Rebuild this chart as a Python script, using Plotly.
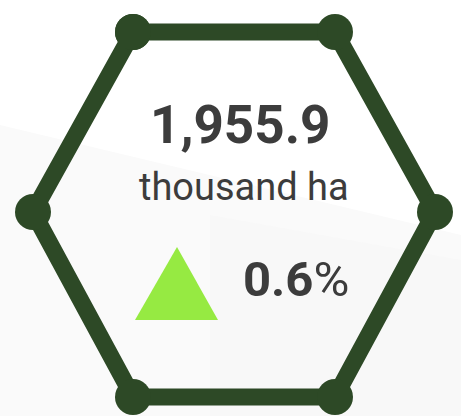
import plotly.graph_objects as go

# Data
value_label = "1,955.9"
unit_label = "thousand ha"
change_label = "0.6"
hex_x = [133, 335, 435, 335, 133, 33, 133]
hex_y = [32, 32, 212, 397, 397, 212, 32]
tri_x = [135, 177, 218, 135]
tri_y = [320, 247, 320, 320]

W, H = 461, 416
line_color = "#2D4926"
text_color = "#3C3C3C"

fig = go.Figure()

# subtle background shading
fig.add_shape(type="path", path="M 0 125 L 461 235 L 461 416 L 0 416 Z",
              fillcolor="#FAFAFA", line_width=0, layer="below")
fig.add_shape(type="path", path="M 210 215 L 461 260 L 461 416 L 210 416 Z",
              fillcolor="#F8F8F8", line_width=0, layer="below")

fig.add_trace(go.Scatter(x=hex_x, y=hex_y, mode="lines+markers",
                         line=dict(color=line_color, width=17),
                         marker=dict(color=line_color, size=36),
                         hoverinfo="skip", showlegend=False))
fig.add_trace(go.Scatter(x=tri_x, y=tri_y, mode="lines", fill="toself",
                         fillcolor="#96EA42", line=dict(width=0, color="#96EA42"),
                         hoverinfo="skip", showlegend=False))

font = "Roboto"
fig.add_annotation(x=240, y=125, text=f"<b>{value_label}</b>", showarrow=False,
                   xanchor="center", yanchor="middle",
                   font=dict(family=font, size=53, color=text_color))
fig.add_annotation(x=244, y=187, text=unit_label, showarrow=False,
                   xanchor="center", yanchor="middle",
                   font=dict(family=font, size=38, color=text_color))
fig.add_annotation(x=296, y=279, text=f"<b>{change_label}</b>%", showarrow=False,
                   xanchor="center", yanchor="middle",
                   font=dict(family=font, size=49, color=text_color))

fig.update_layout(width=W, height=H, margin=dict(l=0, r=0, t=0, b=0),
                  paper_bgcolor="#FFFFFF", plot_bgcolor="rgba(0,0,0,0)",
                  xaxis=dict(range=[0, W], visible=False, fixedrange=True),
                  yaxis=dict(range=[H, 0], visible=False, fixedrange=True))

fig.write_html("out.html", config={"displayModeBar": False},
               post_script="document.body.style.margin='0';document.body.style.overflow='hidden';")
